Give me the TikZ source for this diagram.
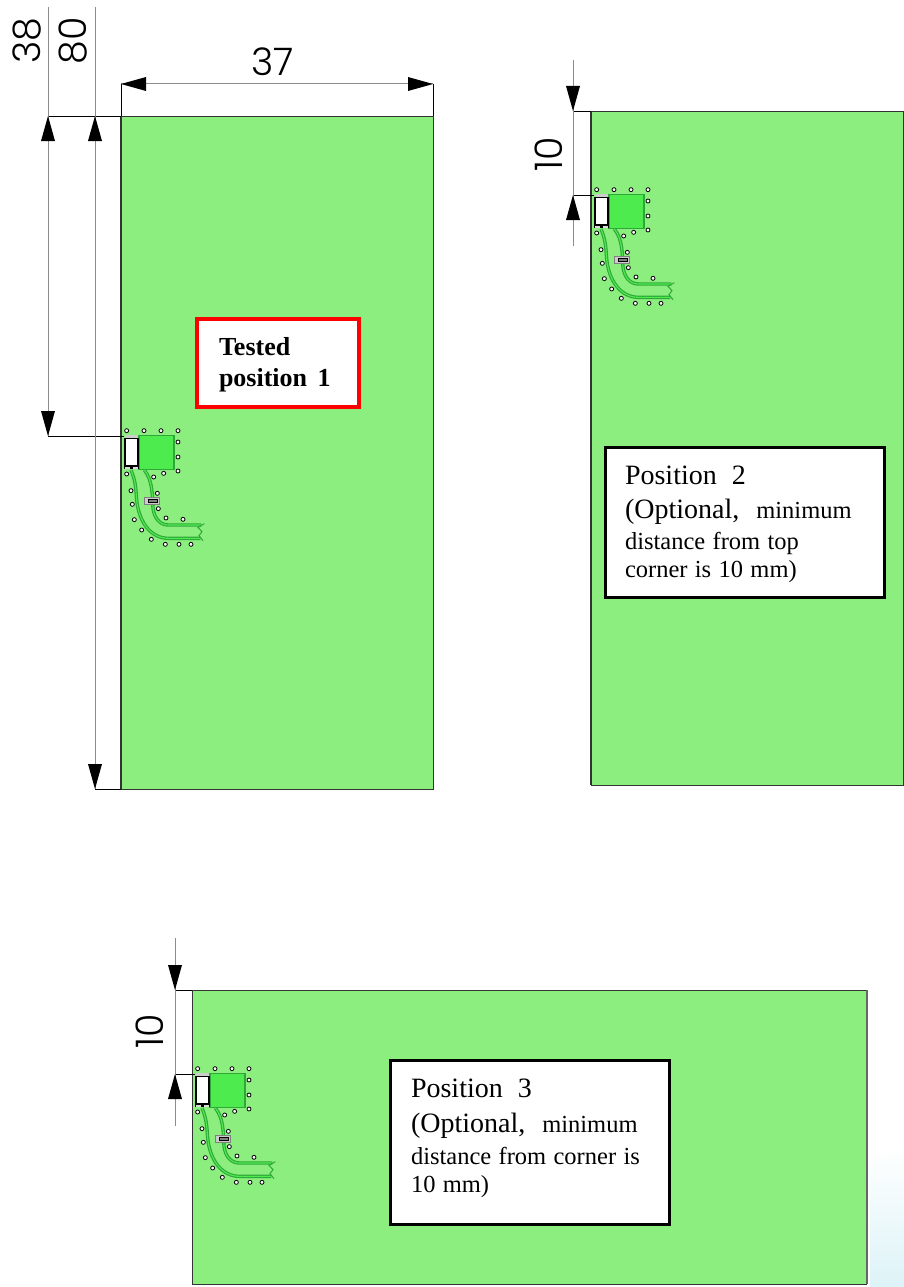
\documentclass[tikz,border=0pt]{standalone}
\usepackage{fontspec}
\setmainfont{Liberation Serif}
\newfontfamily\dimfont[UprightFont=* Light]{Poppins}
\usetikzlibrary{arrows.meta}
\definecolor{board}{HTML}{8CEE7E}
\definecolor{patch}{HTML}{4DEB4D}
\definecolor{trace}{HTML}{2FA83A}
\definecolor{dimgrey}{HTML}{8C8C8C}
\definecolor{tint}{HTML}{DDF3F7}
\tikzset{
  x=1pt,y=-1pt,
  boardbox/.style={draw=black!80,line width=0.9pt,fill=board,outer sep=0pt},
  boardedge/.style={draw=black!80,line width=1.8pt},
  ext/.style={draw=black,line width=0.6pt},
  dimline/.style={draw=dimgrey,line width=1pt},
  dimtip/.style={fill=black},
  dimtext/.style={font=\dimfont\fontsize{38}{38}\selectfont,inner sep=0pt},
  notebox/.style={draw=black,line width=3pt,fill=white,inner sep=0pt,outer sep=0pt,align=left},
  redbox/.style={draw=red,line width=4pt,fill=white,inner sep=0pt,outer sep=0pt,align=left},
  via/.style={draw=black,line width=0.8pt,fill=white},
  bandouter/.style={draw=trace,line width=3.4pt},
  bandinner/.style={draw=patch,line width=1.1pt},
  notchline/.style={draw=trace,line width=1pt},
}
\newcommand{\biglines}{\fontsize{28}{27}\selectfont\spaceskip=0.54em\relax}
\newcommand{\smalllines}{\fontsize{24.5}{27}\selectfont\spaceskip=0.3em\relax}
\newcommand{\antenna}[2]{%
\begin{scope}[shift={(#1,#2)},x=0.3333pt,y=-0.3333pt]
  \fill[fill=patch,draw=trace,line width=1.2pt] (72,46)--(177,46)--(177,148)--(72,148)--cycle;
  % two feed bands
  \foreach \st in {bandouter,bandinner}{
    \draw[\st] (48,150) .. controls (62,185) and (62,200) .. (65,240)
       .. controls (72,310) and (110,355) .. (160,355) -- (256,355);
    \draw[\st] (88,150) .. controls (112,180) and (112,220) .. (114,265)
       .. controls (118,295) and (135,315) .. (160,315) -- (259,315);
  }
  \draw[notchline] (268,311) -- (249,322) -- (261,335) -- (252,347) -- (264,362);
  % connector
  \fill[black] (26,54) rectangle (72,148);
  \fill[white] (33,58) rectangle (65,135);
  \fill[black!20] (30,46) rectangle (70,54);
  \fill[black!15] (30,140) rectangle (46,148);
  \fill[black!15] (54,140) rectangle (70,148);
  % matching component
  \fill[black!20,draw=black!50,line width=0.4pt] (89,232) rectangle (134,252);
  \fill[black!50,draw=black,line width=0.6pt] (100,238) rectangle (126,247);
  % vias
  \foreach \vx/\vy in {35/32,87/32,138/32,189/32,189/66,189/111,189/153,146/160,116/171,35/162,48/212,52/253,58/299,80/330,109/358,151/373,192/373,228/373,127/220,130/266,153/294,204/298}
    \draw[via] (\vx,\vy) circle[radius=2pt];
\end{scope}}
\begin{document}
\begin{tikzpicture}
\useasboundingbox (0,0) rectangle (904,1287);
\fill[white] (0,0) rectangle (904,1287);
% faint corner tint
\shade[top color=white,bottom color=tint]
  (870,1160)--(904,1145)--(904,1287)--(870,1287)--cycle;

% boards
\node[boardbox,minimum width=312pt,minimum height=673pt,inner sep=0pt,anchor=north west] (board1) at (121,116) {};
\draw[boardedge] (board1.north west) -- (board1.south west);
\node[boardbox,minimum width=312pt,minimum height=674pt,inner sep=0pt,anchor=north west] (board2) at (591,111) {};
\draw[boardedge] (board2.north west) -- (board2.south west);
\node[boardbox,minimum width=674pt,minimum height=294pt,inner sep=0pt,anchor=north west] (board3) at (192,990) {};
\draw[draw=black!60,line width=1.6pt] (board3.north east) ++(1,0) -- ++(0,294);

% antennas
\antenna{115}{420}
\antenna{585}{179}
\antenna{186}{1058}

% note boxes
\node[redbox,minimum width=162pt,minimum height=88pt,text width=162pt,anchor=north west] (note1) at (197,319)
  {\hspace*{22pt}\parbox[t]{135pt}{\vspace*{4pt}\bfseries\fontsize{26}{31}\selectfont\spaceskip=0.4em\relax Tested\\position 1}};
\node[notebox,minimum width=279pt,minimum height=150pt,text width=279pt,anchor=north west] (note2) at (605,447)
  {\hspace*{20pt}\parbox[t]{255pt}{\vspace*{4pt}\biglines Position 2\\[7pt](Optional,\hspace*{17pt}{\smalllines minimum}\\[4pt]{\smalllines distance from top}\\[1pt]{\smalllines corner is 10 mm)}}};
\node[notebox,minimum width=279pt,minimum height=164pt,text width=279pt,anchor=north west] (note3) at (390,1060)
  {\hspace*{21pt}\parbox[t]{255pt}{\biglines Position 3\\[8pt](Optional,\hspace*{17pt}{\smalllines minimum}\\[5pt]{\smalllines distance from corner is}\\[1pt]{\smalllines 10 mm)}\par\vspace*{8pt}}};

% dimension anchors
\coordinate (d38top) at (48,7);
\coordinate (d38bot) at (48,436);
\coordinate (d38hi) at (48,116);
\coordinate (d80top) at (95,7);
\coordinate (d80hi) at (95,116);
\coordinate (d80bot) at (95,789);
\coordinate (d37l) at (121,84);
\coordinate (d37r) at (433,84);
\coordinate (d10a) at (573,60);
\coordinate (d10ah) at (573,111);
\coordinate (d10al) at (573,195);
\coordinate (d10ae) at (573,246);
\coordinate (d10b) at (175,938);
\coordinate (d10bh) at (175,990);
\coordinate (d10bl) at (175,1074);
\coordinate (d10be) at (175,1126);

% extension lines
\draw[ext] (d38hi) -- (board1.north west);
\draw[ext] (d38bot) -- (124,436);
\draw[ext] (d80bot) -- (board1.south west);
\draw[ext] (board1.north west) -- (d37l);
\draw[ext] (board1.north east) -- (d37r);
\draw[ext] (d10ah) -- (board2.north west);
\draw[ext] (d10al) -- (594,195);
\draw[ext] (d10bh) -- (board3.north west);
\draw[ext] (d10bl) -- (195,1074);

% dimension lines
\draw[dimline] (d38top) -- (d38bot);
\draw[dimline] (d80top) -- (d80bot);
\draw[dimline] (d37l) -- (d37r);
\draw[dimline] (d10a) -- (d10ae);
\draw[dimline] (d10b) -- (d10be);

% arrowheads
\newcommand{\tipup}[1]{\fill[dimtip] (#1) -- ++(-7,25) -- ++(14,0) -- cycle;}
\newcommand{\tipdown}[1]{\fill[dimtip] (#1) -- ++(-7,-25) -- ++(14,0) -- cycle;}
\tipup{d38hi}\tipdown{d38bot}
\tipup{d80hi}\tipdown{d80bot}
\fill[dimtip] (d37l) -- ++(25,-7) -- ++(0,14) -- cycle;
\fill[dimtip] (d37r) -- ++(-25,-7) -- ++(0,14) -- cycle;
\tipdown{d10ah}\tipup{d10al}
\tipdown{d10bh}\tipup{d10bl}

% dimension labels
\node[dimtext,rotate=90] (t38) at (27,41) {38};
\node[dimtext,rotate=90] (t80) at (73,41) {80};
\node[dimtext] (t37) at (273,62) {37};
\node[dimtext,rotate=90] (t10a) at (549,154) {10};
\node[dimtext,rotate=90] (t10b) at (150,1031) {10};
\end{tikzpicture}
\end{document}
